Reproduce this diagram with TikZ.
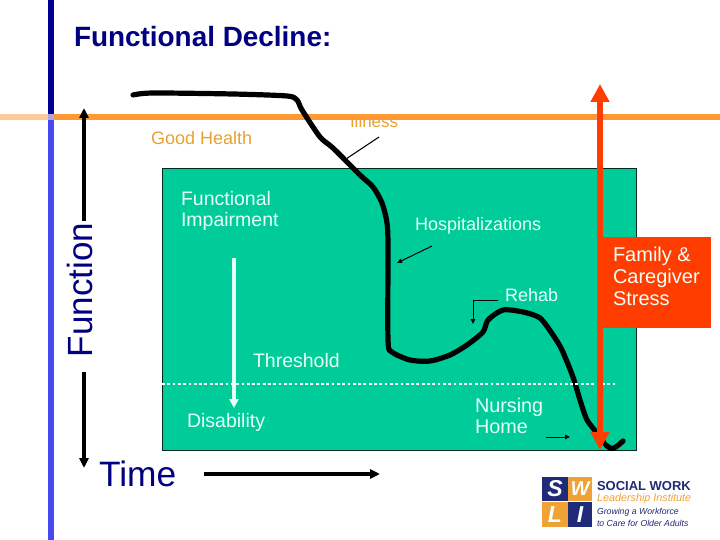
\documentclass[tikz,border=0pt]{standalone}
\usepackage{fontspec}
\setmainfont{Liberation Sans}
\usetikzlibrary{arrows.meta}
\definecolor{navy}{HTML}{000080}
\definecolor{barnavy}{HTML}{000090}
\definecolor{barblue}{HTML}{4848F0}
\definecolor{orangeline}{HTML}{FF9933}
\definecolor{orangelight}{HTML}{FFC899}
\definecolor{crossc}{HTML}{A8A8E0}
\definecolor{goldtext}{HTML}{E8A030}
\definecolor{greenbox}{HTML}{00CC99}
\definecolor{redc}{HTML}{FF3D00}
\definecolor{palet}{HTML}{E6FFF8}
\definecolor{logonavy}{HTML}{1F2A78}
\definecolor{logoorange}{HTML}{EFA235}
\tikzset{
  lbl/.style={anchor=base west,inner sep=0pt,outer sep=0pt},
  palelbl/.style={lbl,text=palet,font=\fontsize{19.5}{20}\selectfont},
  palelblb/.style={lbl,text=palet,font=\fontsize{18}{20}\selectfont},
  stresslbl/.style={lbl,text=palet!60!white,font=\fontsize{20}{21}\selectfont},
  axisarrow/.style={line width=3.6pt,-{Triangle[length=10pt,width=9pt]}},
  thinarrow/.style={line width=1pt,-{Triangle[length=5pt,width=4.5pt]}},
  curveline/.style={line width=5.2pt,line cap=round,line join=round}
}
\begin{document}
\begin{tikzpicture}[x=1pt,y=-1pt]
\useasboundingbox (0,0) rectangle (720,540);
% bars
\fill[barnavy] (48,0) rectangle (54,114);
\fill[barblue] (48,120) rectangle (54,540);
% title
\node[lbl,text=navy,font=\bfseries\fontsize{27.9}{30}\selectfont] (title) at (74,47) {Functional Decline:};
% illness label, partly under the line
\node[lbl,text=goldtext,font=\fontsize{17}{20}\selectfont] (illness) at (350,127.5) {Illness};
% orange line
\fill[white] (340,103) rectangle (410,114);
\fill[orangelight] (0,114) rectangle (48,120);
\fill[crossc] (48,114) rectangle (54,120);
\fill[orangeline] (54,114) rectangle (720,120);
% green box
\node[draw=black!80!greenbox,line width=0.7pt,fill=greenbox,minimum width=474pt,minimum height=282pt,inner sep=0pt,anchor=north west] (box) at (162,168) {};
% axis
\coordinate (fa) at (84,221); \coordinate (fb) at (84,108);
\coordinate (fc) at (84,372); \coordinate (fd) at (84,468);
\draw[axisarrow] (fa) -- (fb);
\draw[axisarrow] (fc) -- (fd);
\node[lbl,text=navy,font=\fontsize{35}{38}\selectfont,rotate=90] (function) at (92,357) {Function};
\node[lbl,text=navy,font=\fontsize{35.3}{38}\selectfont] (time) at (99,486) {Time};
\coordinate (ta) at (204,474); \coordinate (tb) at (380,474);
\draw[axisarrow] (ta) -- (tb);
% labels
\node[lbl,text=goldtext,font=\fontsize{18}{20}\selectfont] (good) at (151,145) {Good Health};
\node[palelbl] (fi1) at (181,206) {Functional};
\node[palelbl] (fi2) at (181,226) {Impairment};
\node[palelblb] (hosp) at (415,230) {Hospitalizations};
\node[palelblb] (rehab) at (505,301) {Rehab};
\node[palelbl] (thr) at (253,367) {Threshold};
\node[palelbl] (dis) at (187,427.5) {Disability};
\node[lbl,text=palet,font=\fontsize{19.8}{20}\selectfont] (nh1) at (475,412) {Nursing};
\node[lbl,text=palet,font=\fontsize{19.8}{20}\selectfont] (nh2) at (475,433) {Home};
% threshold
\coordinate (wa) at (234,258); \coordinate (wb) at (234,408);
\draw[palet,line width=3.4pt,-{Triangle[length=9pt,width=9pt]}] (wa) -- (wb);
% curve
\draw[curveline] plot[smooth,tension=0.45] coordinates {(133,95) (153,93) (233,94) (287,96) (297,100) (302,110) (320,137) (333,148) (360,175) (373,187) (382,203) (387,223) (388,247) (388,340) (392,352) (410,360) (430,361) (450,355) (467,345) (483,332) (488,320) (503,310) (523,312) (540,318) (553,335) (562,350) (573,377) (580,400) (587,420) (597,433) (604,443)};
\draw[curveline] plot[smooth,tension=0.6] coordinates {(606,445) (613,448.5) (623,441)};
\coordinate (da) at (162,384); \coordinate (db) at (616,384);
\draw[white,line width=2.8pt,dash pattern=on 2.8pt off 2.5pt] (da) -- (db);
% pointers
\coordinate (ia) at (379,137); \coordinate (ib) at (346,159);
\draw[line width=1pt] (ia) -- (ib);
\coordinate (ha) at (432,246); \coordinate (hb) at (397,263);
\draw[thinarrow] (ha) -- (hb);
\coordinate (ra) at (498,300); \coordinate (rb) at (473,300); \coordinate (rc) at (473,324);
\draw[thinarrow] (ra) -- (rb) -- (rc);
\coordinate (na) at (546,437); \coordinate (nb) at (570,437);
\draw[thinarrow] (na) -- (nb);
% red
\coordinate (up) at (600,84); \coordinate (down) at (600,450);
\draw[redc,line width=5.2pt,{Triangle[length=18pt,width=18pt]}-{Triangle[length=18pt,width=18pt]}] (up) -- (down);
\node[fill=redc,minimum width=113pt,minimum height=91pt,inner sep=0pt,anchor=north west] (stressbox) at (598,237) {};
\node[stresslbl] (s1) at (613,261) {Family \&};
\node[stresslbl] (s2) at (613,283.5) {Caregiver};
\node[stresslbl] (s3) at (613,305) {Stress};
% logo
\fill[logonavy] (542,477) rectangle (567.5,501);
\fill[logoorange] (568,477) rectangle (592,501);
\fill[logoorange] (542,502) rectangle (567.5,527);
\fill[logonavy] (568,502) rectangle (592,527);
\node[text=white,font=\bfseries\itshape\fontsize{23}{23}\selectfont,inner sep=0pt] (ls) at (555,489) {S};
\node[text=white,font=\bfseries\itshape\fontsize{20}{20}\selectfont,inner sep=0pt] (lw) at (580,489) {W};
\node[text=white,font=\bfseries\itshape\fontsize{23}{23}\selectfont,inner sep=0pt] (ll) at (555,515) {L};
\node[text=white,font=\bfseries\itshape\fontsize{23}{23}\selectfont,inner sep=0pt] (li) at (580,515) {I};
\node[lbl,text=logonavy,font=\bfseries\fontsize{13}{14}\selectfont] (l1) at (597,490.5) {SOCIAL WORK};
\node[lbl,text=logoorange,font=\itshape\fontsize{10.8}{12}\selectfont] (l2) at (597,501) {Leadership Institute};
\node[lbl,text=logonavy,font=\itshape\fontsize{8.7}{10}\selectfont] (l3) at (597,514) {Growing a Workforce};
\node[lbl,text=logonavy,font=\itshape\fontsize{8.7}{10}\selectfont] (l4) at (597,526) {to Care for Older Adults};
\end{tikzpicture}
\end{document}
